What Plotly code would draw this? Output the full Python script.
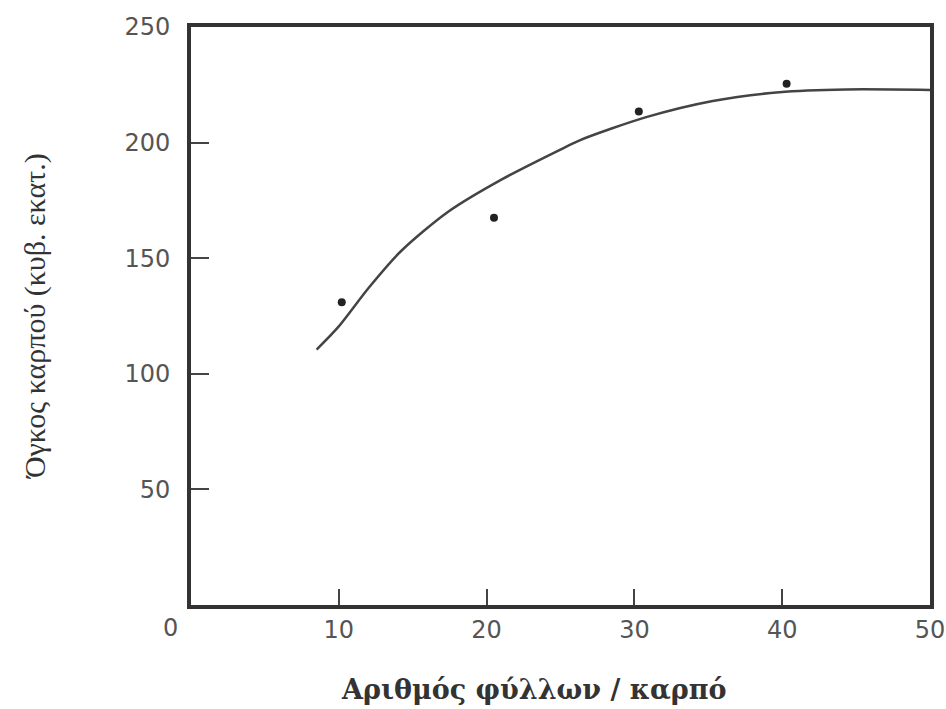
import plotly.graph_objects as go

# Measured points
leaves = [10.2, 20.5, 30.3, 40.3]
volume = [131, 167.5, 213.5, 225.5]

# Fitted curve
curve_x = [8.5, 10.0, 12.0, 14.2, 17.4, 21.0, 25.0, 26.3, 30.8, 35.3, 39.8, 44.3, 50.0]
curve_y = [110.5, 120.5, 137.0, 153.0, 170.1, 184.0, 197.0, 201.0, 211.0, 218.0, 221.8, 223.0, 222.8]

x_ticks = [10, 20, 30, 40, 50]
y_ticks = [50, 100, 150, 200, 250]

fig = go.Figure()
fig.add_trace(go.Scatter(x=curve_x, y=curve_y, mode="lines",
                         line=dict(color="#444", width=2.5, shape="spline", smoothing=0.8),
                         showlegend=False, hoverinfo="skip"))
fig.add_trace(go.Scatter(x=leaves, y=volume, mode="markers", marker=dict(color="#222", size=8),
                         showlegend=False))

axis_font = dict(family="DejaVu Sans", size=24, color="#555")
fig.update_xaxes(range=[0, 50], tickvals=x_ticks, ticktext=[str(v) for v in x_ticks],
                 showline=True, mirror=True, linewidth=4, linecolor="#333",
                 ticks="inside", ticklen=16, tickwidth=2, tickcolor="#444",
                 showgrid=False, zeroline=False, tickfont=axis_font, automargin=False)
fig.update_yaxes(range=[0, 250], tickvals=y_ticks, ticktext=[str(v) for v in y_ticks],
                 showline=True, mirror=True, linewidth=4, linecolor="#333",
                 ticks="inside", ticklen=18, tickwidth=2, tickcolor="#444",
                 ticklabelstandoff=12,
                 showgrid=False, zeroline=False, tickfont=axis_font, automargin=False)

fig.add_annotation(text="0", xref="paper", yref="paper", x=-0.0284, y=-0.0398,
                   showarrow=False, font=axis_font, xanchor="center", yanchor="middle")
fig.add_annotation(text="Όγκος καρπού (κυβ. εκατ.)", xref="paper", yref="paper",
                   x=-0.211, y=0.5, textangle=-90, showarrow=False,
                   font=dict(family="Liberation Serif", size=30, color="#333"),
                   xanchor="center", yanchor="middle")
fig.add_annotation(text="<b>Αριθμός φύλλων / καρπό</b>", xref="paper", yref="paper",
                   x=0.4628, y=-0.147, showarrow=False,
                   font=dict(family="DejaVu Serif", size=27, color="#333"),
                   xanchor="center", yanchor="middle")

fig.update_layout(width=946, height=709, margin=dict(l=191, r=16, t=27, b=104),
                  plot_bgcolor="white", paper_bgcolor="white")
fig.write_html("out.html", config={"displayModeBar": False},
               post_script="document.body.style.margin='0';document.body.style.overflow='hidden';")
